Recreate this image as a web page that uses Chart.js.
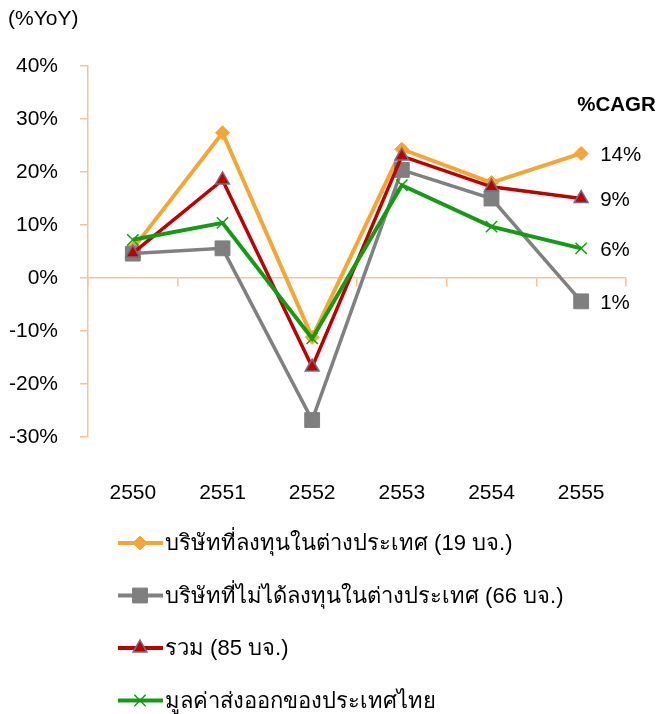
<!DOCTYPE html>
<html>
<head>
<meta charset="utf-8">
<script src="https://cdn.jsdelivr.net/npm/chart.js@4.4.1/dist/chart.umd.min.js"></script>
<style>
  html, body { margin: 0; padding: 0; background: #fff; }
  #wrap { width: 661px; height: 714px; }
</style>
</head>
<body>
<div id="wrap"><canvas id="chart" width="661" height="714"></canvas></div>
<script>
// data
const years = ["2550", "2551", "2552", "2553", "2554", "2555"];
const seriesNames = [
  "บริษัทที่ลงทุนในต่างประเทศ (19 บจ.)",
  "บริษัทที่ไม่ได้ลงทุนในต่างประเทศ (66 บจ.)",
  "รวม (85 บจ.)",
  "มูลค่าส่งออกของประเทศไทย",
];
const investAbroad = [5.5, 27.4, -11.2, 24.3, 18.0, 23.5];
const notInvestAbroad = [4.6, 5.6, -26.8, 20.4, 15.0, -4.4];
const total = [4.7, 18.5, -16.8, 23.0, 17.2, 15.0];
const thaiExports = [7.2, 10.4, -11.4, 17.5, 9.7, 5.6];
const cagrLabels = ["14%", "1%", "9%", "6%"];
const yTicks = [-30, -20, -10, 0, 10, 20, 30, 40];

const axisColor = "#F9C293";
const font = "'Liberation Sans', Arial, sans-serif";

// other bits of text drawn on the canvas
const textPlugin = {
  id: "extraText",
  afterDraw(chart) {
    const ctx = chart.ctx;
    const xs = chart.scales.x;
    const ys = chart.scales.y;
    ctx.save();
    ctx.fillStyle = "#000";
    ctx.textBaseline = "middle";

    // unit label top left
    ctx.font = "21px " + font;
    ctx.textAlign = "left";
    ctx.fillText("(%YoY)", 8, 19);

    // CAGR heading + labels at the end of each line
    ctx.font = "bold 20.5px " + font;
    ctx.fillText("%CAGR", xs.getPixelForValue(5) - 4, ys.getPixelForValue(32.5));
    ctx.font = "20.5px " + font;
    chart.data.datasets.forEach((ds, i) => {
      const pt = chart.getDatasetMeta(i).data[ds.data.length - 1];
      ctx.fillText(cagrLabels[i], pt.x + 19, pt.y + 2);
    });

    // legend, one item per row
    const lx = 118;
    let ly = 543;
    ctx.font = "22px " + font;
    chart.data.datasets.forEach((ds) => {
      ctx.strokeStyle = ds.borderColor;
      ctx.lineWidth = 4;
      ctx.beginPath();
      ctx.moveTo(lx, ly);
      ctx.lineTo(lx + 45, ly);
      ctx.stroke();
      ctx.fillStyle = ds.pointBackgroundColor;
      ctx.strokeStyle = ds.pointBorderColor;
      ctx.lineWidth = ds.pointBorderWidth;
      Chart.helpers.drawPoint(ctx, {
        pointStyle: ds.pointStyle,
        radius: ds.pointRadius,
        rotation: 0,
        borderWidth: ds.pointBorderWidth,
      }, lx + 22, ly);
      ctx.fillStyle = "#000";
      ctx.fillText(ds.label, lx + 47, ly + 1);
      ly += 52.5;
    });
    ctx.restore();
  },
};

new Chart(document.getElementById("chart"), {
  type: "line",
  data: {
    labels: years,
    datasets: [
      {
        label: seriesNames[0],
        data: investAbroad,
        borderColor: "#F7A531",
        borderWidth: 4,
        pointStyle: "rectRot",
        pointRadius: 7,
        pointBackgroundColor: "#F7A531",
        pointBorderColor: "#F7A531",
        pointBorderWidth: 1,
        order: 4,
      },
      {
        label: seriesNames[1],
        data: notInvestAbroad,
        borderColor: "#808080",
        borderWidth: 3.5,
        pointStyle: "rect",
        pointRadius: 10.5,
        pointBackgroundColor: "#7F7F7F",
        pointBorderColor: "#7F7F7F",
        pointBorderWidth: 1,
        order: 3,
      },
      {
        label: seriesNames[2],
        data: total,
        borderColor: "#C00000",
        borderWidth: 3.5,
        pointStyle: "triangle",
        pointRadius: 8,
        pointBackgroundColor: "#C00000",
        pointBorderColor: "#6F6F7F",
        pointBorderWidth: 1.5,
        order: 2,
      },
      {
        label: seriesNames[3],
        data: thaiExports,
        borderColor: "#119D11",
        borderWidth: 4,
        pointStyle: "crossRot",
        pointRadius: 8,
        pointBackgroundColor: "#119D11",
        pointBorderColor: "#119D11",
        pointBorderWidth: 1.5,
        order: 1,
      },
    ],
  },
  options: {
    responsive: false,
    animation: false,
    layout: { padding: { top: 66, right: 35, bottom: 207, left: 0 } },
    plugins: {
      legend: { display: false },
      tooltip: { enabled: false },
    },
    scales: {
      x: {
        type: "category",
        position: { y: 0 },
        offset: true,
        grid: {
          offset: true,
          drawOnChartArea: false,
          drawTicks: true,
          tickLength: 8,
          color: axisColor,
          lineWidth: 1.5,
        },
        border: { color: axisColor, width: 1.5 },
        ticks: { display: false },
      },
      x2: {
        type: "category",
        position: "bottom",
        offset: true,
        grid: { display: false },
        border: { display: false },
        ticks: { color: "#000", font: { family: font, size: 21 }, padding: 36 },
        afterFit(scale) { scale.height = 70; },
      },
      y: {
        min: -30,
        max: 40,
        afterBuildTicks(scale) { scale.ticks = yTicks.map((v) => ({ value: v })); },
        grid: {
          drawOnChartArea: false,
          tickLength: 8,
          color: axisColor,
          lineWidth: 1.5,
        },
        border: { color: axisColor, width: 1.5 },
        ticks: {
          color: "#000",
          font: { family: font, size: 21 },
          padding: 22,
          callback: (v) => v + "%",
        },
        afterFit(scale) { scale.width = 88; },
      },
    },
  },
  plugins: [textPlugin],
});
</script>
</body>
</html>
